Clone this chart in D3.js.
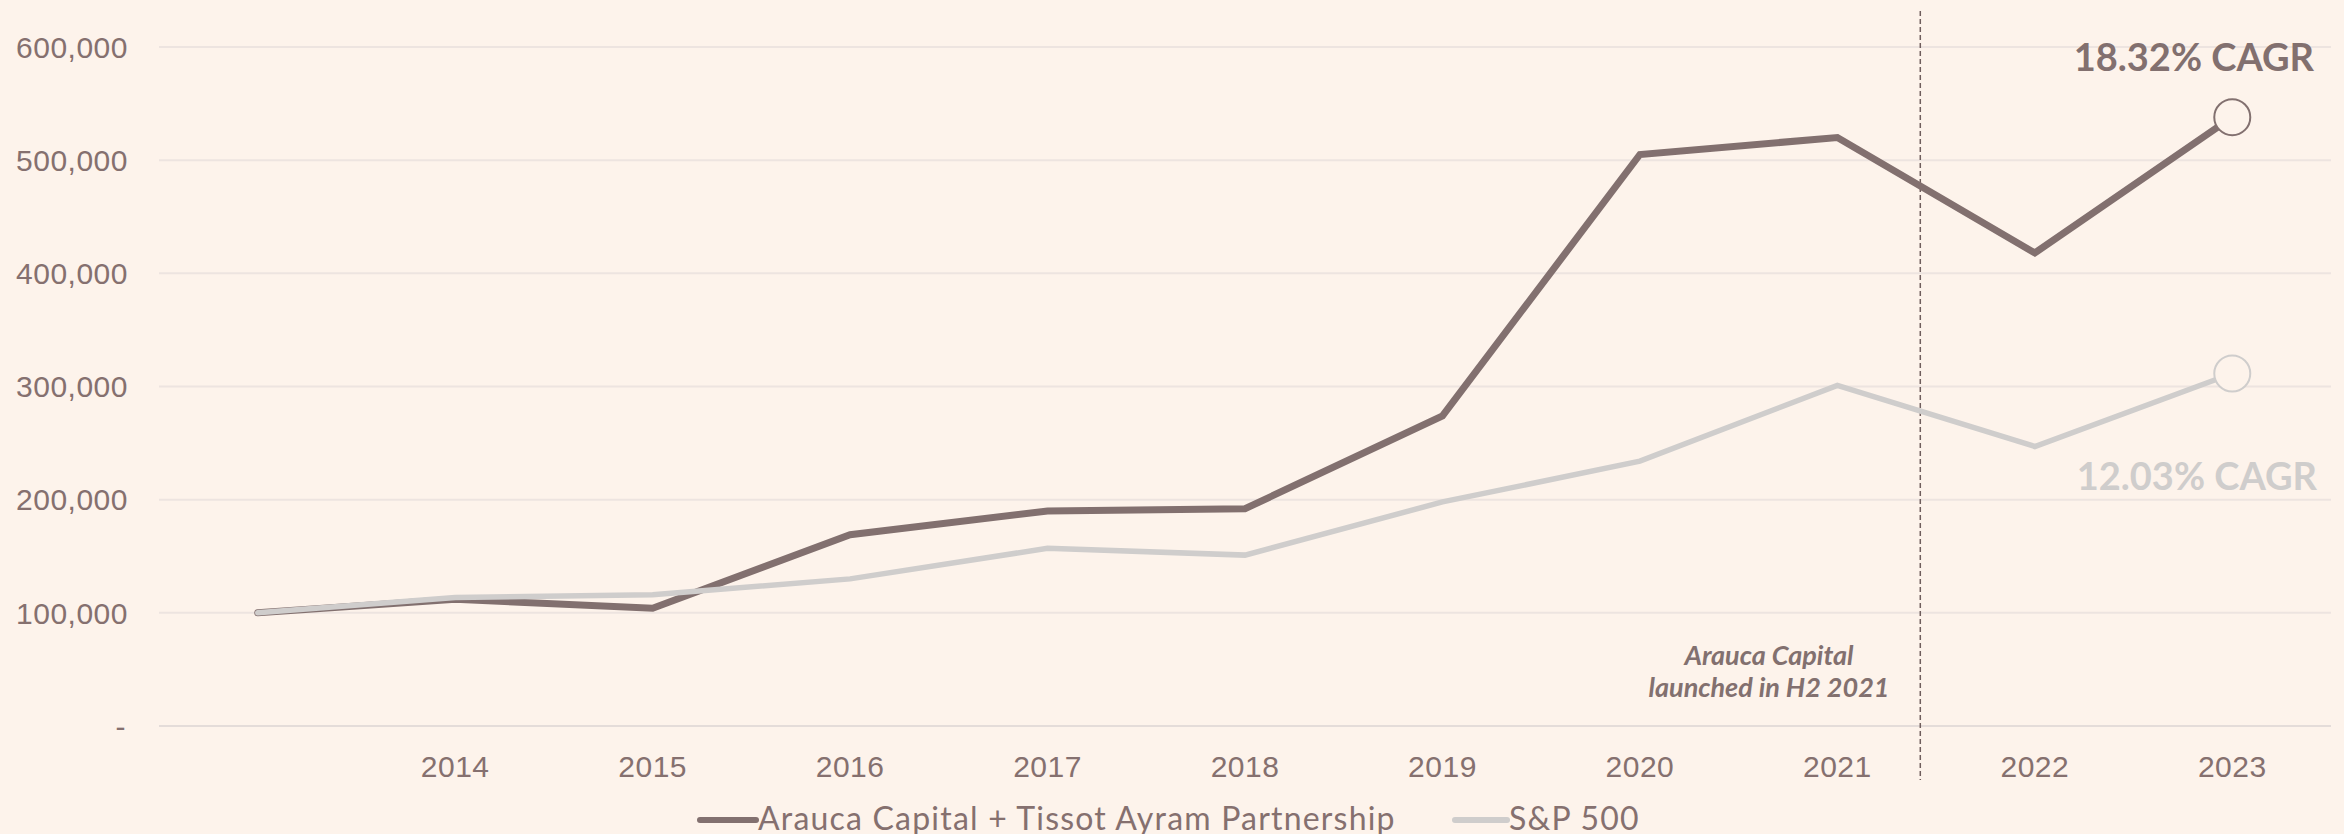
<!DOCTYPE html>
<meta charset="utf-8">
<style>
body { margin: 0; background: #fdf3eb; }
svg { display: block; font-family: "Century Gothic", Lato, sans-serif; }
.grid line { stroke: #ede4e0; stroke-width: 2px; }
.tick text { fill: #85706f; font-size: 30px; letter-spacing: 0.5px; }
.line { fill: none; stroke-linecap: round; stroke-linejoin: miter; }
</style>
<body>
<script src="https://d3js.org/d3.v7.min.js"></script>
<script>

// data
var years = ["", "2014", "2015", "2016", "2017", "2018", "2019", "2020", "2021", "2022", "2023"];
var arauca = [100000, 112000, 104000, 169000, 190000, 192000, 274000, 505000, 520000, 418000, 538000];
var sp500 = [100000, 113500, 116000, 130000, 157000, 151000, 198000, 234000, 301000, 247000, 311500];
var yTicks = [0, 100000, 200000, 300000, 400000, 500000, 600000];
var seriesNames = ["Arauca Capital + Tissot Ayram Partnership", "S&P 500"];
var cagrLabels = ["18.32% CAGR", "12.03% CAGR"];

var dark = "#82706f", light = "#cfcdcc", bg = "#fdf3eb";

var width = 2344, height = 834;
var margin = {left: 159, right: 2331, top: 47, bottom: 726};

var svg = d3.select("body").append("svg")
    .attr("width", width)
    .attr("height", height);

svg.append("rect").attr("width", width).attr("height", height).attr("fill", bg);

// scales
var x = d3.scaleBand().domain(years).range([margin.left, margin.right]);
var y = d3.scaleLinear().domain([0, 600000]).range([margin.bottom, margin.top]);
var cx = function(i) { return x(years[i]) + x.bandwidth() / 2; };

// gridlines
svg.append("g")
    .attr("class", "grid")
  .selectAll("line")
    .data(yTicks)
  .enter().append("line")
    .attr("x1", margin.left).attr("x2", margin.right)
    .attr("y1", function(d) { return y(d); })
    .attr("y2", function(d) { return y(d); })
    .style("stroke", function(d) { return d === 0 ? "#e4dcd9" : null; });

// y axis
var yAxis = svg.append("g")
    .attr("transform", "translate(128,0)")
    .call(d3.axisLeft(y).tickValues(yTicks).tickSize(0).tickPadding(0)
      .tickFormat(function(d) { return d === 0 ? "-" : d3.format(",")(d); }));
yAxis.select(".domain").remove();
yAxis.selectAll("text").attr("dy", "0.34em");
yAxis.selectAll(".tick").filter(function(d) { return d === 0; }).select("text").attr("dx", -2);

// x axis
var xAxis = svg.append("g")
    .attr("transform", "translate(0," + margin.bottom + ")")
    .call(d3.axisBottom(x).tickSize(0).tickPadding(30));
xAxis.select(".domain").remove();
xAxis.selectAll("text").attr("dy", "0.71em");

// launch marker (H2 2021)
var launchX = cx(8) + x.bandwidth() * 0.42;
svg.append("line")
    .attr("x1", launchX).attr("x2", launchX)
    .attr("y1", 11).attr("y2", 780)
    .attr("stroke", "#6f5e5d")
    .attr("stroke-width", 1.5)
    .attr("stroke-dasharray", "5,3");

var note = svg.append("text")
    .attr("fill", dark)
    .attr("font-size", 27)
    .attr("font-weight", "bold")
    .attr("font-style", "italic")
    .attr("text-anchor", "middle");
note.append("tspan").attr("x", 1769).attr("y", 665).text("Arauca Capital");
note.append("tspan").attr("x", 1769).attr("y", 697).text("launched in H2 2021");

// lines
var valueline = d3.line()
    .x(function(d, i) { return cx(i); })
    .y(function(d) { return y(d); });

svg.append("path")
    .datum(arauca)
    .attr("class", "line")
    .attr("stroke", dark)
    .attr("stroke-width", 7)
    .attr("d", valueline);

svg.append("path")
    .datum(sp500)
    .attr("class", "line")
    .attr("stroke", light)
    .attr("stroke-width", 5.5)
    .attr("d", valueline);

// end markers
var last = years.length - 1;
[[arauca, dark], [sp500, light]].forEach(function(s) {
  svg.append("circle")
      .attr("cx", cx(last))
      .attr("cy", y(s[0][last]))
      .attr("r", 18)
      .attr("fill", bg)
      .attr("stroke", s[1])
      .attr("stroke-width", 2);
});

// CAGR labels
svg.append("text")
    .attr("x", 2314).attr("y", 71)
    .attr("text-anchor", "end")
    .attr("font-size", 38).attr("font-weight", "bold")
    .attr("fill", dark)
    .text(cagrLabels[0]);

svg.append("text")
    .attr("x", 2317).attr("y", 490)
    .attr("text-anchor", "end")
    .attr("font-size", 38).attr("font-weight", "bold")
    .attr("fill", light)
    .text(cagrLabels[1]);

// legend
var legend = [
  {name: seriesNames[0], color: dark, x0: 700, x1: 756},
  {name: seriesNames[1], color: light, x0: 1455, x1: 1507}
];
legend.forEach(function(l) {
  svg.append("line")
      .attr("x1", l.x0).attr("x2", l.x1)
      .attr("y1", 820).attr("y2", 820)
      .attr("stroke", l.color)
      .attr("stroke-width", 6)
      .attr("stroke-linecap", "round");
  svg.append("text")
      .attr("x", l.x1 + 2).attr("y", 830)
      .attr("font-size", 32)
      .attr("letter-spacing", 1.2)
      .attr("fill", "#85706f")
      .text(l.name);
});

</script>
</body>
